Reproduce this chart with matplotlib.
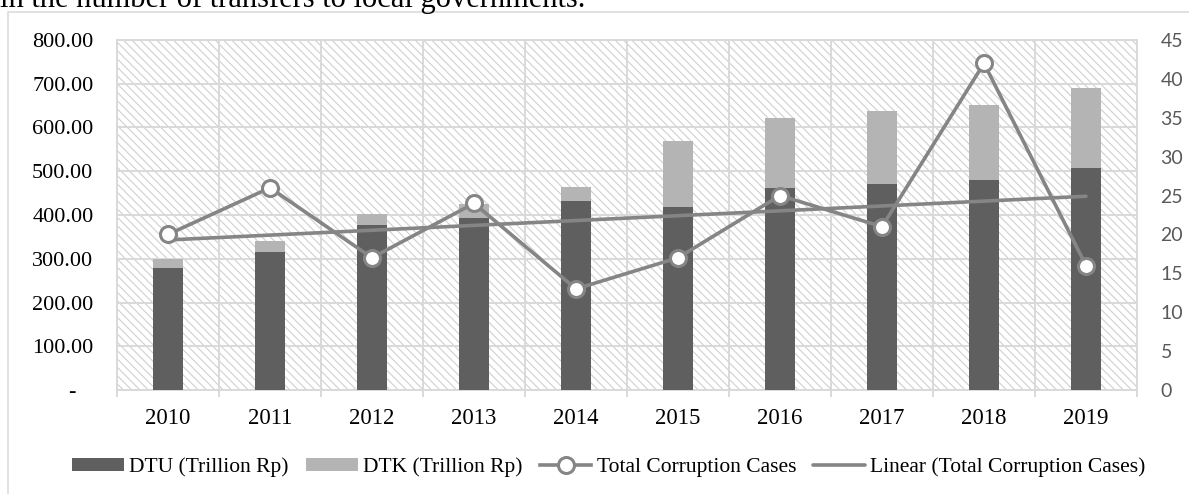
import numpy as np
import matplotlib.pyplot as plt
from matplotlib.patches import Rectangle
from matplotlib.ticker import MultipleLocator, FixedLocator

years = ["2010", "2011", "2012", "2013", "2014", "2015", "2016", "2017", "2018", "2019"]
dtu = [280, 316, 377, 394, 433, 418, 461, 472, 480, 508]
dtk = [20, 25, 25, 31, 32, 152, 161, 166, 171, 182]
cases = [20, 26, 17, 24, 13, 17, 25, 21, 42, 16]
left_ticks = [0, 100, 200, 300, 400, 500, 600, 700, 800]
left_labels = ["-   "] + [f"{v:.2f}" for v in left_ticks[1:]]

DARK = "#5f5f5f"
LIGHT = "#b4b4b4"
LINE = "#858585"
GRID = "#d9d9d9"
SERIF = "Liberation Serif"

plt.rcParams["hatch.linewidth"] = 0.8

fig = plt.figure(figsize=(11.89, 4.94), dpi=100)

# caption line cut off at the top (from the surrounding document)
fig.text(0.0, 1 - 7 / 494, "in the number of transfers to local governments.",
         family=SERIF, fontsize=22, va="baseline", ha="left")

# outer chart box (runs off right and bottom)
fig.patches.append(Rectangle((8 / 1189, -0.1), 1.2, 1 - 12 / 494 + 0.1,
                             transform=fig.transFigure, fill=False,
                             edgecolor=GRID, linewidth=1.1))

ax = fig.add_axes([117 / 1189, 1 - 390 / 494, 1020 / 1189, 350 / 494])
ax.patch.set_visible(False)
bg = Rectangle((0, 0), 1, 1, transform=ax.transAxes, facecolor="white",
               edgecolor="#cfcfcf", hatch="\\\\\\\\", linewidth=0, zorder=0)
ax.add_patch(bg)

x = np.arange(len(years))
ax.bar(x, dtu, width=0.285, color=DARK, zorder=3, label="DTU (Trillion Rp)")
ax.bar(x, dtk, width=0.285, bottom=dtu, color=LIGHT, zorder=3, label="DTK (Trillion Rp)")

ax.set_xlim(-0.5, len(years) - 0.5)
ax.set_ylim(0, 800)
ax.set_yticks(left_ticks)
ax.set_yticklabels(left_labels)
ax.set_xticks(x)
ax.set_xticklabels(years)
ax.xaxis.set_minor_locator(FixedLocator(np.arange(-0.5, len(years), 1.0)))
ax.grid(axis="y", color=GRID, linewidth=1.4, zorder=1)
ax.grid(axis="x", which="minor", color=GRID, linewidth=1.4, zorder=1)
ax.set_axisbelow(True)
ax.tick_params(axis="y", length=0, pad=17, labelsize=16)
ax.tick_params(axis="x", which="major", length=0, pad=13, labelsize=16.5)
ax.tick_params(axis="x", which="minor", length=5, width=1.4, color=GRID)
for lab in ax.get_xticklabels() + ax.get_yticklabels():
    lab.set_family(SERIF)
for s in ax.spines.values():
    s.set_color(GRID)
    s.set_linewidth(1.4)

ax2 = ax.twinx()
ax2.set_ylim(0, 45)
ax2.yaxis.set_major_locator(MultipleLocator(5))
ax2.tick_params(axis="y", length=0, pad=17, labelsize=14, labelcolor="#595959")
for lab in ax2.get_yticklabels():
    lab.set_family("Lato")
for s in ax2.spines.values():
    s.set_visible(False)

coef = np.polyfit(x, cases, 1)
trend = np.polyval(coef, x[[0, -1]])
ax2.plot(x[[0, -1]], trend, color=LINE, linewidth=2.6, solid_capstyle="round",
         zorder=4, label="Linear (Total Corruption Cases)")
ax2.plot(x, cases, color=LINE, linewidth=2.6, marker="o", markersize=11.5,
         markerfacecolor="white", markeredgecolor=LINE, markeredgewidth=2.2,
         zorder=5, label="Total Corruption Cases")

h1, l1 = ax.get_legend_handles_labels()
h2, l2 = ax2.get_legend_handles_labels()
handles = h1 + [h2[1], h2[0]]
labels = l1 + [l2[1], l2[0]]
fig.legend(handles, labels, loc="center", bbox_to_anchor=(609 / 1189, 1 - 467 / 494),
           ncol=4, frameon=False, prop={"family": SERIF, "size": 15.5},
           handlelength=2.4, handleheight=0.55, handletextpad=0.25,
           columnspacing=0.8, borderpad=0)

fig.savefig("out.png", dpi=100)
